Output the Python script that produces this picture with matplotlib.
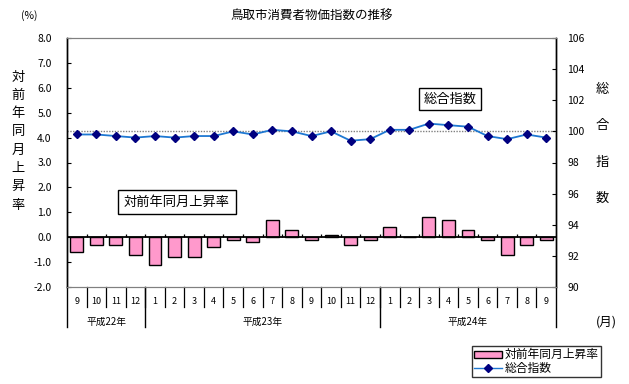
import matplotlib
matplotlib.use('Agg')
from matplotlib import pyplot as plt
from matplotlib.patches import Patch
from matplotlib.lines import Line2D
import numpy as np

plt.rcParams['font.family'] = ['Noto Sans CJK JP', 'DejaVu Sans']

# data
months = ['9', '10', '11', '12',
          '1', '2', '3', '4', '5', '6', '7', '8', '9', '10', '11', '12',
          '1', '2', '3', '4', '5', '6', '7', '8', '9']
years = ['平成22年', '平成23年', '平成24年']
year_lengths = [4, 12, 9]
rate = [-0.6, -0.3, -0.3, -0.7, -1.1, -0.8, -0.8, -0.4, -0.1, -0.2, 0.7, 0.3,
        -0.1, 0.1, -0.3, -0.1, 0.4, 0.0, 0.8, 0.7, 0.3, -0.1, -0.7, -0.3, -0.1]
index = [99.8, 99.8, 99.7, 99.6, 99.7, 99.6, 99.7, 99.7, 100.0, 99.8, 100.1, 100.0,
         99.7, 100.0, 99.4, 99.5, 100.1, 100.1, 100.5, 100.4, 100.3, 99.7, 99.5, 99.8, 99.6]

W, H = 629, 384
fig = plt.figure(figsize=(W / 100, H / 100), dpi=100)
L, R, T, B = 67, 556, 38, 287
ax = fig.add_axes([L / W, 1 - B / H, (R - L) / W, (B - T) / H])
ax2 = ax.twinx()

n = len(months)
x = np.arange(n)

ax.bar(x, rate, width=0.66, color='#ff99cc', edgecolor='black', linewidth=1.0, zorder=3)
ax.set_xlim(-0.5, n - 0.5)
ax.set_ylim(-2.0, 8.0)
ax.set_yticks(np.arange(-2.0, 8.1, 1.0))
ax.set_yticklabels(['%.1f' % v for v in np.arange(-2.0, 8.1, 1.0)])
ax.tick_params(axis='y', direction='in', length=3, pad=11, labelsize=7.5)
ax.set_xticks([])

# zero axis with small ticks between categories
ax.axhline(0, color='black', lw=1.3, zorder=4)
bounds = np.arange(n + 1) - 0.5
ax.vlines(bounds[1:-1], 0, 0.13, color='black', lw=0.9, zorder=4)

ax2.plot(x, index, color='#1e78d2', lw=1.3, marker='D', markersize=4.5,
         markerfacecolor='#000080', markeredgecolor='#000080', zorder=5)
ax2.axhline(100, color='#808080', lw=1.0, ls=(0, (1, 1)), zorder=1)
ax2.set_ylim(90, 106)
ax2.set_yticks(np.arange(90, 107, 2))
ax2.tick_params(axis='y', direction='in', length=3, pad=8, labelsize=7.5)

for a in (ax, ax2):
    a.spines['top'].set_color('#808080')
    a.spines['top'].set_linestyle((0, (1, 1)))
    a.spines['bottom'].set_color('#808080')
    a.spines['bottom'].set_linestyle((0, (1, 1)))
    a.spines['left'].set_linewidth(1.0)
    a.spines['right'].set_linewidth(1.0)

# category table below the plot
tr = ax.get_xaxis_transform()
ph = B - T
month_y = -(301 - B) / ph
sep_y = -(307 - B) / ph
year_y = -(322 - B) / ph
year_sep_y = -(327 - B) / ph
for i, m in enumerate(months):
    ax.text(i, month_y, m, transform=tr, ha='center', va='center', fontsize=6.5)
for b in bounds[1:-1]:
    ax.plot([b, b], [0, sep_y], transform=tr, color='black', lw=0.9, clip_on=False)
start = 0
ax.plot([bounds[0]] * 2, [0, year_sep_y], transform=tr, color='black', lw=1.0, clip_on=False)
for yl, cnt in zip(years, year_lengths):
    end = start + cnt
    ax.plot([bounds[end]] * 2, [0, year_sep_y], transform=tr, color='black', lw=1.0, clip_on=False)
    ax.text((bounds[start] + bounds[end]) / 2, year_y, yl, transform=tr,
            ha='center', va='center', fontsize=7)
    start = end

# titles and labels
fig.text((L + R) / 2 / W, 1 - 15 / H, '鳥取市消費者物価指数の推移', ha='center', va='center', fontsize=9)
fig.text(29 / W, 1 - 16 / H, '(%)', ha='center', va='center', fontsize=7.5)
fig.text(606 / W, 1 - 322 / H, '(月)', ha='center', va='center', fontsize=9)
for k, ch in enumerate('対前年同月上昇率'):
    fig.text(18 / W, 1 - (77 + k * 18.3) / H, ch, ha='center', va='center', fontsize=9.5)
for k, ch in enumerate('総合指数'):
    fig.text(602 / W, 1 - (90 + k * 36) / H, ch, ha='center', va='center', fontsize=9.5)

box = dict(boxstyle='square,pad=0.35', fc='white', ec='black', lw=1.0)
fig.text(450 / W, 1 - 99 / H, '総合指数', ha='center', va='center', fontsize=9.5, bbox=box)
box2 = dict(boxstyle='square,pad=0.45', fc='white', ec='black', lw=1.0)
fig.text(177 / W, 1 - 202 / H, '対前年同月上昇率', ha='center', va='center', fontsize=9.5, bbox=box2)

handles = [Patch(facecolor='#ff99cc', edgecolor='black', linewidth=1.0),
           Line2D([], [], color='#1e78d2', lw=1.0, marker='D', markersize=4,
                  markerfacecolor='#000080', markeredgecolor='#000080')]
leg = fig.legend(handles, ['対前年同月上昇率', '総合指数'], loc='upper left',
                 bbox_to_anchor=(472 / W, 1 - 346 / H), fontsize=8.5, frameon=True,
                 fancybox=False, edgecolor='black', handlelength=2.3, handleheight=0.55,
                 handletextpad=0.25, borderpad=0.2, labelspacing=0.05, borderaxespad=0)
leg.get_frame().set_linewidth(1.0)

fig.savefig('out.png', dpi=100)
